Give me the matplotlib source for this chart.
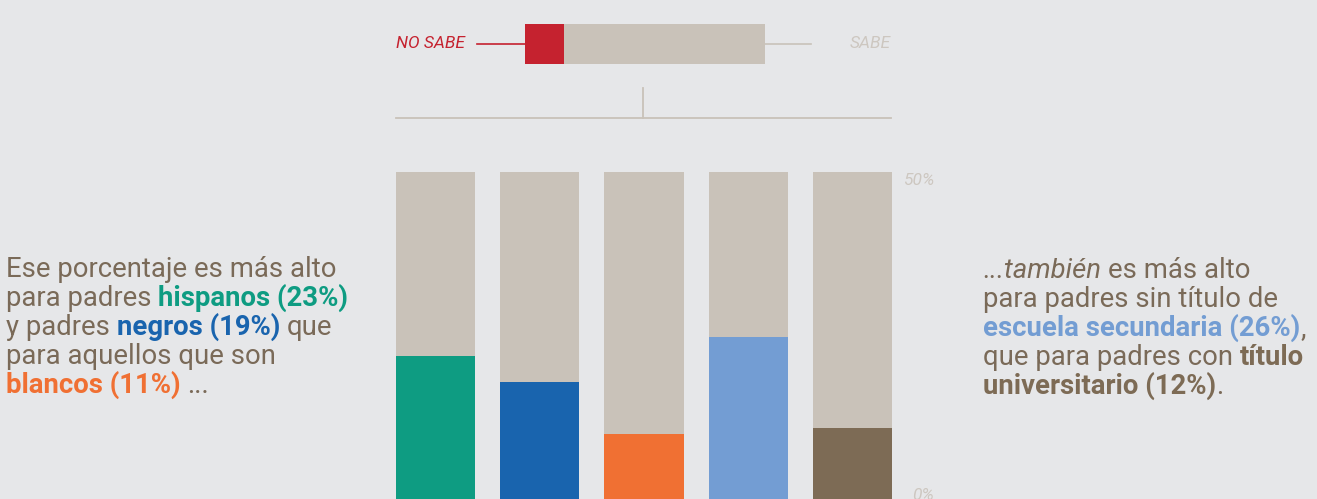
import matplotlib
matplotlib.use('Agg')
import matplotlib.pyplot as plt
from matplotlib.lines import Line2D

W, H = 1317, 499

# datos
grupos = ['hispanos', 'negros', 'blancos', 'sin título de secundaria', 'título universitario']
no_sabe = [23, 19, 11, 26, 12]
colores = ['#0e9c82', '#1964ae', '#f07033', '#739dd3', '#7d6b55']
tope = 51.3          # altura de la barra gris de fondo
etiquetas_eje = ['50%', '0%']
leyenda_no_sabe = 16.25   # parte roja de la barra de leyenda

BG = '#e6e7e9'
GRIS = '#c9c2b9'
TEXTO = '#7a6a58'
ROJO = '#c5222f'
CLARO = '#cdc7c0'

plt.rcParams['font.family'] = ['Roboto', 'DejaVu Sans']

fig = plt.figure(figsize=(W / 100, H / 100), dpi=100, facecolor=BG)
renderer = fig.canvas.get_renderer()


def fx(x):
    return x / W


def fy(y):
    return 1 - y / H


# barras
ax = fig.add_axes([0, 0, 1, 1])
ax.set_facecolor(BG)
ax.axis('off')
paso, x0 = 104.25, 435.5
ax.set_xlim(-x0 / paso, (W - x0) / paso)
px_pct, base = 6.5, 505.5
ax.set_ylim((base - H) / px_pct, base / px_pct)

xs = range(len(grupos))
ax.bar(xs, [tope] * len(grupos), width=0.758, color=GRIS)
ax.bar(xs, no_sabe, width=0.758, color=colores)

ax.text(4.485, 50, etiquetas_eje[0], ha='left', va='center', style='italic',
        color=CLARO, fontsize=12.5)
ax.text(4.78, 1.6, etiquetas_eje[1], ha='right', va='center', style='italic',
        color=CLARO, fontsize=12.5)

# leyenda de arriba
lax = fig.add_axes([fx(525), fy(64), fx(765) - fx(525), 40 / H])
lax.axis('off')
lax.set_xlim(0, 100)
lax.set_ylim(0, 1)
lax.barh(0.5, leyenda_no_sabe, height=1, color=ROJO)
lax.barh(0.5, 100 - leyenda_no_sabe, left=leyenda_no_sabe, height=1, color=GRIS)

fig.add_artist(Line2D([fx(477), fx(525)], [fy(44)] * 2, color=ROJO, lw=1.2))
fig.add_artist(Line2D([fx(765), fx(811)], [fy(44)] * 2, color=GRIS, lw=1.2))
fig.text(fx(465), fy(44), 'NO SABE', ha='right', va='center', style='italic',
         color=ROJO, fontsize=12.5)
fig.text(fx(891), fy(44), 'SABE', ha='right', va='center', style='italic',
         color=CLARO, fontsize=12.5)

# corchete
fig.add_artist(Line2D([fx(396), fx(891)], [fy(118)] * 2, color=GRIS, lw=1.3))
fig.add_artist(Line2D([fx(643), fx(643)], [fy(88), fy(118)], color=GRIS, lw=1.3))

TAM = 19.8


def ancho(s, **kw):
    t = fig.text(0, 0, s, **kw)
    w = t.get_window_extent(renderer).width
    t.remove()
    return w


def linea(x, y, partes):
    cx = x
    for s, color, peso, estilo in partes:
        kw = dict(fontsize=TAM, color=color, fontweight=peso, fontstyle=estilo)
        esp = ancho('a a', **kw) - ancho('aa', **kw)
        cx += (len(s) - len(s.lstrip(' '))) * esp
        t = fig.text(fx(cx), fy(y), s.strip(), ha='left', va='baseline', **kw)
        cx += t.get_window_extent(renderer).width
        cx += (len(s) - len(s.rstrip(' '))) * esp


N = 'normal'
B = 'bold'
izq = [
    [('Ese porcentaje es más alto', TEXTO, N, N)],
    [('para padres ', TEXTO, N, N), ('hispanos (23%)', colores[0], B, N)],
    [('y padres ', TEXTO, N, N), ('negros (19%)', colores[1], B, N), (' que', TEXTO, N, N)],
    [('para aquellos que son', TEXTO, N, N)],
    [('blancos (11%)', colores[2], B, N), (' ...', TEXTO, N, N)],
]
der = [
    [('...también', TEXTO, N, 'italic'), (' es más alto', TEXTO, N, N)],
    [('para padres sin título de', TEXTO, N, N)],
    [('escuela secundaria (26%)', colores[3], B, N), (',', TEXTO, N, N)],
    [('que para padres con ', TEXTO, N, N), ('título', colores[4], B, N)],
    [('universitario (12%)', colores[4], B, N), ('.', TEXTO, N, N)],
]

for i, partes in enumerate(izq):
    linea(6, 277 + i * 29, partes)
for i, partes in enumerate(der):
    linea(983, 278 + i * 29, partes)

fig.savefig('out.png', dpi=100, facecolor=BG)
